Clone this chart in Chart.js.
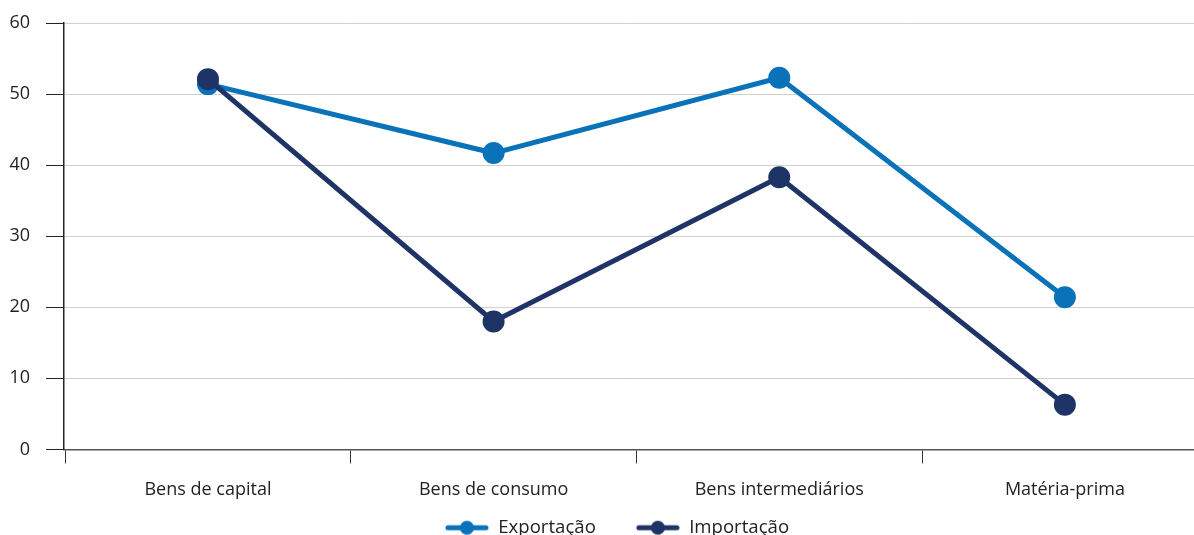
<!DOCTYPE html>
<html lang="pt">
<head>
  <meta charset="UTF-8">
  <title>Exportação e Importação</title>
  <script src="https://cdn.jsdelivr.net/npm/chart.js"></script>
  <style>
    html, body { margin: 0; padding: 0; background: #fff; overflow: hidden; }
    #wrap { position: relative; width: 1194px; height: 547px; }
  </style>
</head>
<body>
  <div id="wrap"><canvas id="chart"></canvas></div>

  <script>
// data
const categories = ['Bens de capital', 'Bens de consumo', 'Bens intermediários', 'Matéria-prima'];
const exportacao = [51.4, 41.7, 52.3, 21.4];
const importacao = [52.1, 18.0, 38.3, 6.3];
const yTicks = [0, 10, 20, 30, 40, 50, 60];

const blue = '#0a72b8';
const navy = '#1f3466';

// categories sit on a linear axis so the spacing can match the original
const asPoints = arr => arr.map((v, i) => ({ x: i, y: v }));

// line + dot swatch for the legend, with a blank strip on the left as spacing
function swatch(color) {
  const c = document.createElement('canvas');
  c.width = 84; c.height = 16;
  const g = c.getContext('2d');
  g.strokeStyle = color;
  g.lineWidth = 5;
  g.lineCap = 'round';
  g.beginPath(); g.moveTo(43, 8); g.lineTo(81, 8); g.stroke();
  g.fillStyle = color;
  g.beginPath(); g.arc(62, 8, 7, 0, Math.PI * 2); g.fill();
  return c;
}

const font = { family: 'Open Sans', size: 18 };
// the plot box is placed by hand, so the scales should not ask for extra room
const noPad = () => ({ left: 0, top: 0, right: 0, bottom: 0 });

const ctx = document.getElementById('chart').getContext('2d');
new Chart(ctx, {
  type: 'line',
  data: {
    datasets: [
      { label: 'Exportação', data: asPoints(exportacao), borderColor: blue, backgroundColor: blue,
        borderWidth: 5, pointRadius: 8.5, pointHoverRadius: 8.5, tension: 0, order: 1 },
      { label: 'Importação', data: asPoints(importacao), borderColor: navy, backgroundColor: navy,
        borderWidth: 5, pointRadius: 8.5, pointHoverRadius: 8.5, tension: 0, order: 0 }
    ]
  },
  options: {
    responsive: true,
    maintainAspectRatio: false,
    animation: false,
    layout: { autoPadding: false, padding: { top: 23, right: 0, left: 0, bottom: 0 } },
    plugins: {
      tooltip: { enabled: false },
      legend: {
        position: 'bottom',
        labels: {
          usePointStyle: true,
          pointStyleWidth: 84,
          padding: 0,
          color: '#222',
          font: { family: 'Open Sans', size: 18.6 },
          generateLabels: chart => chart.data.datasets.map((ds, i) => ({
            text: ds.label,
            pointStyle: swatch(ds.borderColor),
            fillStyle: ds.borderColor,
            strokeStyle: ds.borderColor,
            lineWidth: 0,
            fontColor: '#222',
            hidden: false,
            datasetIndex: i
          }))
        }
      }
    },
    scales: {
      x: {
        type: 'linear',
        min: -0.504,
        max: 3.452,
        afterBuildTicks: s => { s.ticks = categories.map((c, i) => ({ value: i })); },
        border: { display: true, color: '#555', width: 1.5 },
        grid: { offset: true, drawOnChartArea: false, drawTicks: true, tickLength: 14, color: '#333' },
        ticks: {
          color: '#222', padding: 16, font: font, autoSkip: false, maxRotation: 0,
          callback: v => categories[v]
        },
        afterFit: s => { s.height = 69; s.getPadding = noPad; }
      },
      y: {
        min: 0,
        max: 60,
        afterBuildTicks: s => { s.ticks = yTicks.map(v => ({ value: v })); },
        border: { display: true, color: '#222', width: 1.5 },
        grid: { color: '#d0d0d0', lineWidth: 1, tickLength: 18, tickColor: '#222' },
        ticks: { color: '#222', padding: 16, font: font },
        afterFit: s => { s.width = 64; s.getPadding = noPad; }
      }
    }
  }
});
  </script>
</body>
</html>
